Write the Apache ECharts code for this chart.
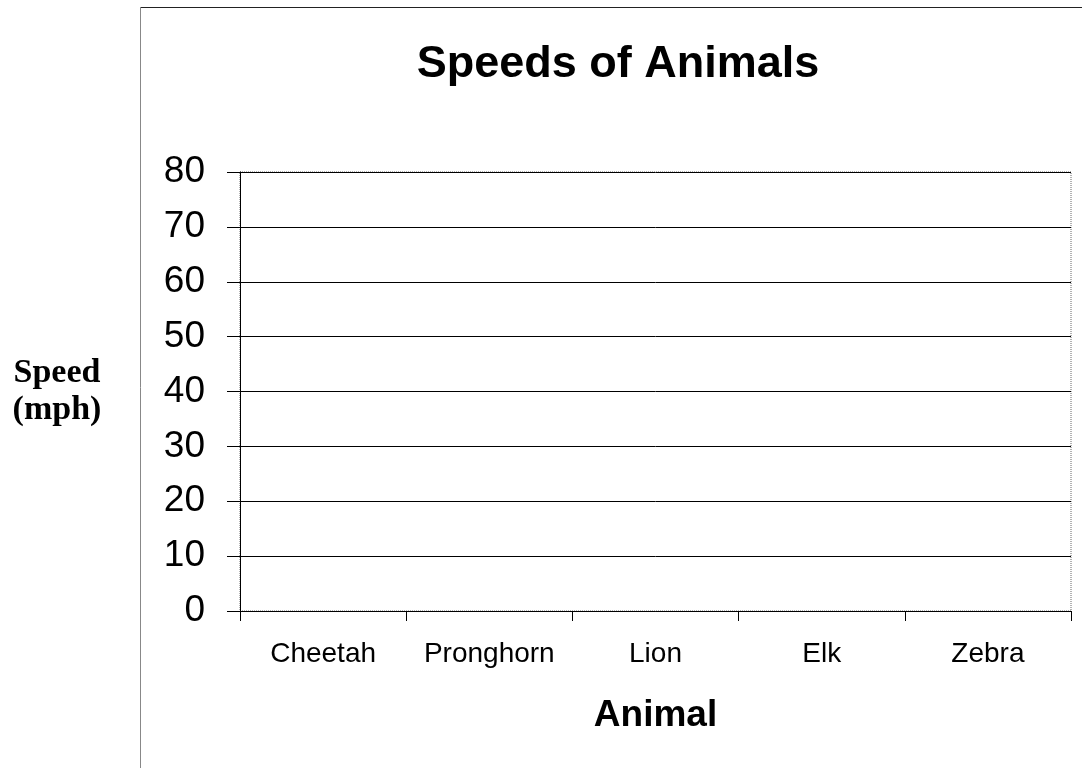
<!DOCTYPE html>
<html>
<head>
<meta charset="utf-8">
<script src="https://cdn.jsdelivr.net/npm/echarts@6/dist/echarts.min.js"></script>
<style>
  html, body { margin: 0; padding: 0; background: #fff; }
  #chart { width: 1082px; height: 768px; }
</style>
</head>
<body>
<div id="chart"></div>
<script>
// blank worksheet chart: categories only, no speeds filled in yet
let animals = ['Cheetah', 'Pronghorn', 'Lion', 'Elk', 'Zebra'];
let speeds = [null, null, null, null, null];
let yMin = 0;
let yMax = 80;
let yStep = 10;

let chart = echarts.init(document.getElementById('chart'));

chart.setOption({
    animation: false,
    backgroundColor: '#fff',
    title: {
        text: 'Speeds of Animals',
        left: 613,
        top: 37,
        textAlign: 'center',
        textStyle: {
            fontFamily: 'Liberation Sans, Arial, sans-serif',
            fontSize: 45,
            fontWeight: 'bold',
            color: '#000'
        }
    },
    grid: {
        left: 240,
        right: 11,
        top: 172,
        bottom: 157,
        show: true,
        borderColor: '#666',
        borderType: 'dotted',
        borderWidth: 1
    },
    xAxis: {
        type: 'category',
        data: animals,
        boundaryGap: true,
        name: 'Animal',
        nameLocation: 'middle',
        nameGap: 86,
        nameTextStyle: {
            fontFamily: 'Liberation Sans, Arial, sans-serif',
            fontSize: 37,
            fontWeight: 'bold',
            color: '#000'
        },
        axisLine: { show: true, lineStyle: { color: '#000', width: 1 } },
        axisTick: { show: true, interval: 0, length: 10, lineStyle: { color: '#000' } },
        axisLabel: {
            interval: 0,
            margin: 29,
            fontFamily: 'Liberation Sans, Arial, sans-serif',
            fontSize: 28,
            color: '#000'
        },
        splitLine: { show: false }
    },
    yAxis: {
        type: 'value',
        min: yMin,
        max: yMax,
        interval: yStep,
        name: 'Speed\n(mph)',
        nameLocation: 'middle',
        nameRotate: 0,
        nameGap: 183,
        nameTextStyle: {
            fontFamily: 'Liberation Serif, Times New Roman, serif',
            fontSize: 34,
            fontWeight: 'bold',
            lineHeight: 37,
            align: 'center',
            padding: [0, 0, 24, 0],
            color: '#000'
        },
        axisLine: { show: true, lineStyle: { color: '#000', width: 1 } },
        axisTick: { show: true, length: 13, lineStyle: { color: '#000' } },
        axisLabel: {
            margin: 35,
            fontFamily: 'Liberation Sans, Arial, sans-serif',
            fontSize: 37,
            color: '#000'
        },
        splitLine: { show: true, lineStyle: { color: '#000', width: 1 } }
    },
    series: [
        {
            type: 'bar',
            data: speeds,
            itemStyle: { color: '#888' }
        }
    ],
    graphic: [
        // outer frame of the chart sheet (top and left edges only visible)
        { type: 'line', shape: { x1: 140, y1: 7.5, x2: 1082, y2: 7.5 }, style: { stroke: '#222', lineWidth: 1 } },
        { type: 'line', shape: { x1: 140.5, y1: 7, x2: 140.5, y2: 768 }, style: { stroke: '#888', lineWidth: 1 } }
    ]
});
</script>
</body>
</html>
